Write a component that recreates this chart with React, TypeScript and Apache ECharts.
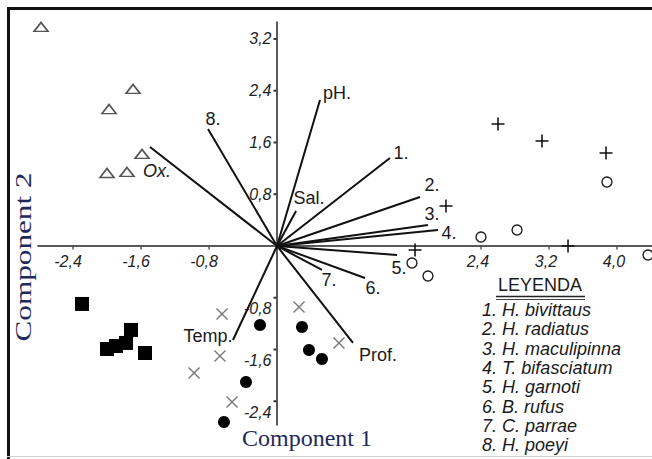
import React, { useEffect, useRef } from "react";
import * as echarts from "echarts";

// ---------- data ----------
const triangles: number[][] = [
  [-2.776, 3.385], [-1.694, 2.427], [-1.976, 2.117],
  [-1.588, 1.422], [-2.0, 1.128], [-1.765, 1.144],
];
const pluses: number[][] = [
  [2.6, 1.886], [3.118, 1.623], [3.871, 1.437],
  [1.988, 0.618], [1.624, -0.062], [3.424, 0.0],
];
const openCircles: number[][] = [
  [3.882, 0.989], [2.4, 0.139], [2.824, 0.247],
  [1.588, -0.263], [1.776, -0.464], [4.365, -0.139],
];
const squares: number[][] = [
  [-2.294, -0.896], [-2.0, -1.592], [-1.894, -1.546],
  [-1.776, -1.499], [-1.718, -1.298], [-1.553, -1.654],
];
const crosses: number[][] = [
  [-0.647, -1.051], [-0.671, -1.7], [-0.976, -1.963],
  [-0.529, -2.411], [0.259, -0.943], [0.729, -1.499],
];
const dots: number[][] = [
  [-0.2, -1.221], [0.294, -1.252], [0.376, -1.607],
  [0.529, -1.747], [-0.365, -2.102], [-0.624, -2.72],
];
const vectorNames: string[] = [
  "pH.", "8.", "Ox.", "Sal.", "1.", "2.", "3.", "4.", "5.", "6.", "7.", "Prof.", "Temp.",
];
const vectorEnds: number[][] = [
  [0.506, 2.257], [-0.812, 1.808], [-1.494, 1.53], [0.224, 0.541],
  [1.329, 1.36], [1.682, 0.757], [1.776, 0.325], [1.894, 0.247],
  [1.412, -0.139], [1.035, -0.495], [0.529, -0.371], [0.894, -1.499],
  [-0.518, -1.453],
];
const xTicks: number[] = [-2.4, -1.6, -0.8, 2.4, 3.2, 4.0];
const yTicks: number[] = [-2.4, -1.6, -0.8, 0.8, 1.6, 2.4, 3.2];
const legendTitle = "LEYENDA";
const legendItems: string[] = [
  "1. H. bivittaus", "2. H. radiatus", "3. H. maculipinna", "4. T. bifasciatum",
  "5. H. garnoti", "6. B. rufus", "7. C. parrae", "8. H. poeyi",
];
const xName = "Component 1";
const yName = "Component 2";

// ---------- styling / layout ----------
const labelOffsets: number[][] = [
  [17, -7], [5, -10], [7, 24], [13, -13], [11, -5], [12, -12], [4, -11],
  [11, 3], [2, 13], [8, 10], [7, 10], [25, 12], [-25, -4],
];
const SANS = '"Liberation Sans", Arial, sans-serif';
const NARROW = '"Liberation Sans Narrow", "Arial Narrow", "Liberation Sans", sans-serif';
const SERIF = '"Liberation Serif", "Times New Roman", serif';
const fmt = (v: number) => v.toFixed(1).replace(".", ",");
const tickFont = { fontFamily: NARROW, fontSize: 16, fontStyle: "italic", color: "#222" };

const PLUS = "path://M4.4,0H5.6V4.4H10V5.6H5.6V10H4.4V5.6H0V4.4H4.4Z";
const CROSS = "path://M0,0.8L0.8,0L5,4.2L9.2,0L10,0.8L5.8,5L10,9.2L9.2,10L5,5.8L0.8,10L0,9.2L4.2,5Z";

export default function App() {
  const ref = useRef<HTMLDivElement>(null);
  useEffect(() => {
    if (!ref.current) return;
    const chart = echarts.init(ref.current, null, { renderer: "svg" });
    const option: any = {
      animation: false,
      backgroundColor: "#fff",
      grid: { left: 38, top: 22, width: 614, height: 403, containLabel: false },
      xAxis: {
        type: "value",
        min: -2.812,
        max: 4.412,
        axisLine: { show: true, onZero: true, lineStyle: { color: "#222", width: 1.5 } },
        splitLine: { show: false },
        axisTick: { show: false },
        axisLabel: { show: false },
      },
      yAxis: {
        type: "value",
        min: -2.767,
        max: 3.462,
        axisLine: { show: true, onZero: true, lineStyle: { color: "#222", width: 1.5 } },
        splitLine: { show: false },
        axisTick: { show: false },
        axisLabel: { show: false },
      },
      series: [
        // x tick marks + labels on the zero line
        {
          type: "scatter", clip: false, silent: true, z: 2,
          symbol: "rect", symbolSize: [1.2, 3], symbolOffset: [0, 2],
          itemStyle: { color: "#333", opacity: 1 },
          label: {
            show: true, position: "inside", ...tickFont,
            formatter: (p: any) => fmt(p.value[0]),
          },
          data: xTicks.map((v) => ({
            value: [v, 0],
            label: { offset: [v < 0 ? -5 : -3, 14] },
          })),
        },
        // y tick marks + labels on the zero line
        {
          type: "scatter", clip: false, silent: true, z: 2,
          symbol: "rect", symbolSize: [3, 2], symbolOffset: [-2, 0],
          itemStyle: { color: "#333", opacity: 1 },
          label: {
            show: true, position: "left", distance: 2, ...tickFont,
            formatter: (p: any) => fmt(p.value[1]),
          },
          data: yTicks.map((v) => ({
            value: [0, v],
            label: { offset: [0, v < 0 ? 11 : 0] },
          })),
        },
        {
          type: "lines",
          coordinateSystem: "cartesian2d",
          polyline: false,
          silent: true,
          z: 3,
          lineStyle: { color: "#111", width: 2, opacity: 1 },
          data: vectorEnds.map((e) => ({ coords: [[0, 0], e] })),
        },
        {
          type: "scatter",
          symbolSize: 0.1,
          silent: true,
          z: 4,
          itemStyle: { color: "rgba(0,0,0,0)", opacity: 1 },
          label: {
            show: true,
            position: "inside",
            formatter: "{b}",
            fontFamily: SANS,
            fontSize: 18,
            color: "#1a1a1a",
          },
          data: vectorEnds.map((e, i) => ({
            value: e,
            name: vectorNames[i],
            label: {
              offset: labelOffsets[i],
              fontStyle: vectorNames[i] === "Ox." ? "italic" : "normal",
            },
          })),
        },
        {
          type: "scatter", clip: false, z: 5,
          symbol: "triangle", symbolSize: [14, 9],
          itemStyle: { color: "rgba(0,0,0,0)", borderColor: "#555", borderWidth: 1.6, opacity: 1 },
          data: triangles,
        },
        {
          type: "scatter", clip: false, z: 5,
          symbol: PLUS, symbolSize: 13,
          itemStyle: { color: "#111", opacity: 1 },
          data: pluses,
        },
        {
          type: "scatter", clip: false, z: 5,
          symbol: "circle", symbolSize: 10,
          itemStyle: { color: "rgba(0,0,0,0)", borderColor: "#222", borderWidth: 1.4, opacity: 1 },
          data: openCircles,
        },
        {
          type: "scatter", clip: false, z: 5,
          symbol: "rect", symbolSize: 14,
          itemStyle: { color: "#000", opacity: 1 },
          data: squares,
        },
        {
          type: "scatter", clip: false, z: 5,
          symbol: CROSS, symbolSize: 12,
          itemStyle: { color: "#777", opacity: 1 },
          data: crosses,
        },
        {
          type: "scatter", clip: false, z: 5,
          symbol: "circle", symbolSize: 12,
          itemStyle: { color: "#000", opacity: 1 },
          data: dots,
        },
      ],
      graphic: [
        // frame
        { type: "rect", shape: { x: 7, y: 7, width: 646, height: 3 }, style: { fill: "#111" }, z: 10 },
        { type: "rect", shape: { x: 7, y: 7, width: 3, height: 452 }, style: { fill: "#111" }, z: 10 },
        { type: "rect", shape: { x: 7, y: 456, width: 646, height: 1 }, style: { fill: "#d0d0d0" }, z: 10 },
        // axis names
        {
          type: "text", x: 307, y: 438, z: 10,
          style: { text: xName, fontFamily: SERIF, fontSize: 24, fill: "#1f2a5a", textAlign: "center", textVerticalAlign: "middle" },
        },
        {
          type: "text", x: 23, y: 257, rotation: Math.PI / 2, scaleX: 1.3, z: 10,
          style: { text: yName, fontFamily: SERIF, fontSize: 24, fill: "#1f2a5a", textAlign: "center", textVerticalAlign: "middle" },
        },
        // legend box
        {
          type: "text", x: 540, y: 285, z: 10,
          style: { text: legendTitle, fontFamily: SANS, fontSize: 18, fill: "#1a1a1a", textAlign: "center", textVerticalAlign: "middle" },
        },
        { type: "line", z: 10, shape: { x1: 496, y1: 296.5, x2: 585, y2: 296.5 }, style: { stroke: "#222", lineWidth: 1.5 } },
        { type: "line", z: 10, shape: { x1: 496, y1: 299.5, x2: 585, y2: 299.5 }, style: { stroke: "#444", lineWidth: 1.2 } },
        {
          type: "text", x: 482, y: 300.5, z: 10,
          style: {
            text: legendItems.join("\n"),
            fontFamily: SANS, fontSize: 18, fontStyle: "italic", lineHeight: 19.3,
            fill: "#1a1a1a", textAlign: "left", textVerticalAlign: "top",
          },
        },
      ],
    };
    chart.setOption(option);
    return () => chart.dispose();
  }, []);
  return (
    <div
      ref={ref}
      style={{ position: "fixed", left: 0, top: 0, width: 652, height: 459, background: "#fff" }}
    />
  );
}
